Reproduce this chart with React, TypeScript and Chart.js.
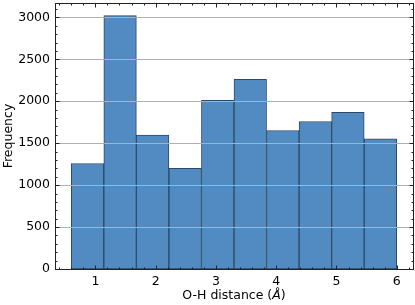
import React, { useEffect, useRef } from "react";
import { Chart, registerables } from "chart.js";

Chart.register(...registerables);

// Histogram data
const binEdges = [0.6, 1.14, 1.68, 2.22, 2.76, 3.3, 3.84, 4.38, 4.92, 5.46, 6.0];
const counts = [1258, 3020, 1595, 1200, 2010, 2262, 1651, 1758, 1869, 1551];

// Axes
const xTicks = [1, 2, 3, 4, 5, 6];
const yTicks = [0, 500, 1000, 1500, 2000, 2500, 3000];
const xMin = 0.33;
const xMax = 6.27;
const yMin = 0;
const yMax = 3171;
const xMinorStep = 0.2;
const yMinorStep = 100;

const xLabelMain = "O-H distance (";
const xLabelItalic = "Å";
const xLabelEnd = ")";
const yLabel = "Frequency";

const FONT = "DejaVu Sans";
const FS = 12.5;

const decorPlugin = {
  id: "decor",
  afterDatasetsDraw(chart: any) {
    const { ctx, chartArea, scales } = chart;
    const { left, right, top, bottom } = chartArea;
    const x = scales.x;
    const y = scales.y;
    ctx.save();
    // grid lines over bars
    ctx.strokeStyle = "#b0b0b0";
    ctx.lineWidth = 1;
    for (const v of yTicks) {
      const py = Math.round(y.getPixelForValue(v)) + 0.5;
      ctx.beginPath();
      ctx.moveTo(left, py);
      ctx.lineTo(right, py);
      ctx.stroke();
    }
    // spines
    ctx.strokeStyle = "#222";
    ctx.lineWidth = 1;
    ctx.strokeRect(left + 0.5, top + 0.5, right - left, bottom - top);
    // ticks
    const drawX = (v: number, len: number) => {
      const px = Math.round(x.getPixelForValue(v)) + 0.5;
      ctx.beginPath();
      ctx.moveTo(px, bottom + 0.5);
      ctx.lineTo(px, bottom + 0.5 - len);
      ctx.moveTo(px, top + 0.5);
      ctx.lineTo(px, top + 0.5 + len);
      ctx.stroke();
    };
    const drawY = (v: number, len: number) => {
      const py = Math.round(y.getPixelForValue(v)) + 0.5;
      ctx.beginPath();
      ctx.moveTo(left + 0.5, py);
      ctx.lineTo(left + 0.5 + len, py);
      ctx.moveTo(right + 0.5, py);
      ctx.lineTo(right + 0.5 - len, py);
      ctx.stroke();
    };
    for (let i = Math.ceil(xMin / xMinorStep); i * xMinorStep <= xMax; i++) {
      drawX(i * xMinorStep, 2);
    }
    for (const v of xTicks) drawX(v, 4);
    for (let i = 0; i * yMinorStep <= yMax; i++) {
      drawY(i * yMinorStep, 2);
    }
    for (const v of yTicks) drawY(v, 4);

    // x axis label with italic Å
    ctx.fillStyle = "#000";
    ctx.textBaseline = "middle";
    ctx.textAlign = "left";
    const nFont = `${FS}px '${FONT}'`;
    const iFont = `oblique ${FS}px '${FONT}'`;
    ctx.font = nFont;
    const w1 = ctx.measureText(xLabelMain).width;
    const w3 = ctx.measureText(xLabelEnd).width;
    ctx.font = iFont;
    const w2 = ctx.measureText(xLabelItalic).width;
    const total = w1 + w2 + w3;
    const cx = (left + right) / 2;
    const ty = 296;
    let sx = cx - total / 2;
    ctx.font = nFont;
    ctx.fillText(xLabelMain, sx, ty);
    sx += w1;
    ctx.font = iFont;
    ctx.fillText(xLabelItalic, sx, ty);
    sx += w2;
    ctx.font = nFont;
    ctx.fillText(xLabelEnd, sx, ty);
    ctx.restore();
  },
};

export default function App() {
  const ref = useRef<HTMLCanvasElement | null>(null);
  useEffect(() => {
    document.body.style.margin = "0";
    const canvas = ref.current;
    if (!canvas) return;
    const data = counts.map((c, i) => ({
      x: (binEdges[i] + binEdges[i + 1]) / 2,
      y: c,
    }));
    const chart = new Chart(canvas, {
      type: "bar",
      data: {
        datasets: [
          {
            data: data as any,
            backgroundColor: "#528bc2",
            borderColor: "#2c4864",
            borderWidth: 1,
            borderSkipped: false,
            barPercentage: 1,
            categoryPercentage: 1,
          },
        ],
      },
      options: {
        animation: false,
        responsive: false,
        devicePixelRatio: 1,
        layout: { padding: { top: 3, right: 2, left: 0, bottom: 0 } },
        plugins: {
          legend: { display: false },
          tooltip: { enabled: false },
        },
        scales: {
          x: {
            type: "linear",
            min: xMin,
            max: xMax,
            offset: false,
            grid: { display: false, drawTicks: false },
            border: { display: false },
            afterBuildTicks: (s: any) => {
              s.ticks = xTicks.map((v) => ({ value: v }));
            },
            afterFit: (s: any) => {
              s.height = 36;
              s.paddingLeft = 0;
              s.paddingRight = 0;
            },
            ticks: {
              padding: 5,
              color: "#000",
              maxRotation: 0,
              autoSkip: false,
              font: { family: FONT, size: FS },
              callback: (v: any) => String(v),
            },
          },
          y: {
            min: yMin,
            max: yMax,
            grid: { display: false, drawTicks: false },
            border: { display: false },
            afterBuildTicks: (s: any) => {
              s.ticks = yTicks.map((v) => ({ value: v }));
            },
            afterFit: (s: any) => {
              s.width = 55;
              s.paddingTop = 0;
              s.paddingBottom = 0;
            },
            ticks: {
              padding: 5,
              color: "#000",
              font: { family: FONT, size: FS },
              callback: (v: any) => String(v),
            },
            title: {
              display: true,
              text: yLabel,
              color: "#000",
              font: { family: FONT, size: FS },
              padding: { top: 1, bottom: 0 },
            },
          },
        },
      },
      plugins: [decorPlugin],
    } as any);
    return () => chart.destroy();
  }, []);
  return (
    <div style={{ width: 415, height: 305 }}>
      <canvas ref={ref} width={415} height={305} />
    </div>
  );
}
